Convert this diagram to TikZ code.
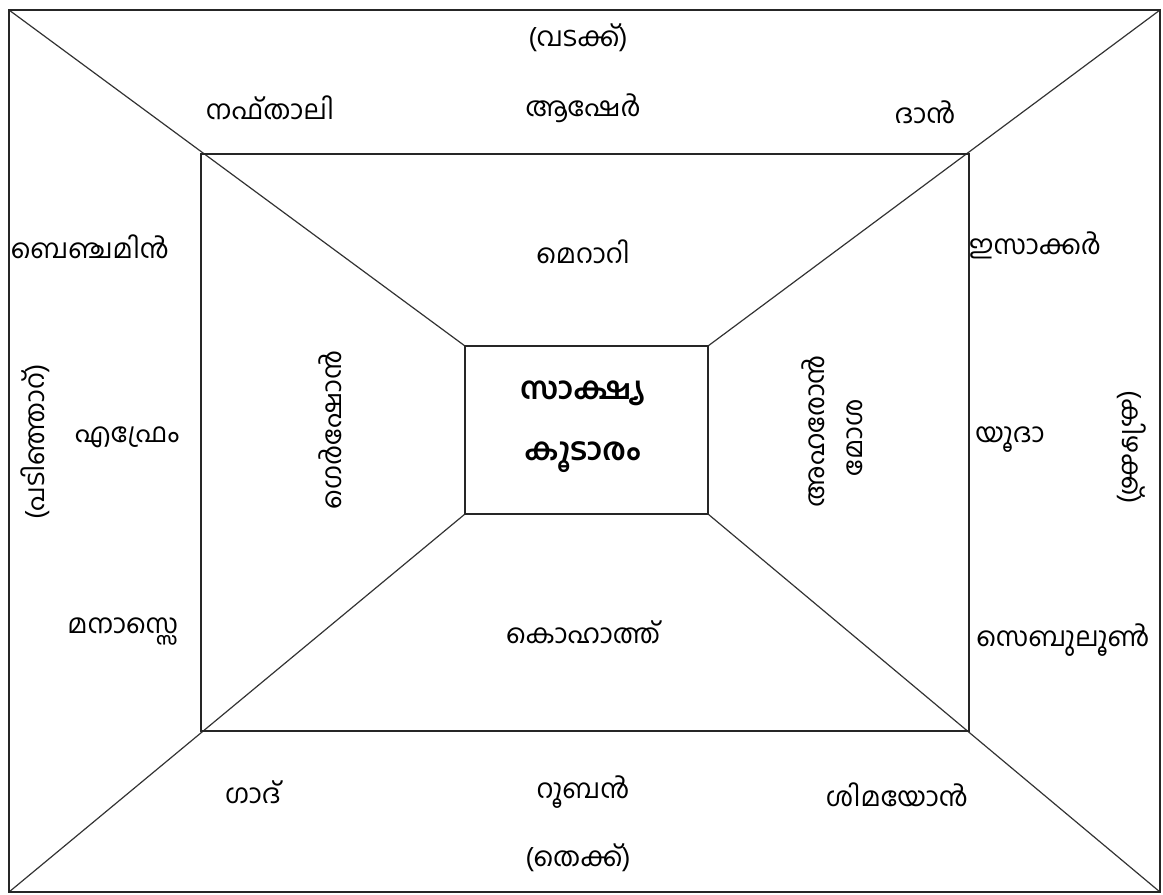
\documentclass[tikz,border=0pt]{standalone}
\usepackage{fontspec}
\newfontfamily\mlfont[Script=Malayalam]{Hind Kochi}

\begin{document}
\begin{tikzpicture}[x=0.7087pt, y=-0.7087pt]
            % Kader
            \useasboundingbox (0,0) rectangle (1163,894);

            % Stijlen
            \tikzset{rand/.style={line width=1.2pt, black!85},
                     diag/.style={line width=0.85pt, black!80},
                     stam/.style={font=\mlfont\fontsize{19}{22}\selectfont, inner sep=1pt},
                     kern/.style={font=\mlfont\bfseries\fontsize{22}{26}\selectfont, inner sep=1pt}}

            % Hoekpunten
            \coordinate (onw) at (9,10);
            \coordinate (one) at (1160,10);
            \coordinate (osw) at (9,892);
            \coordinate (ose) at (1160,892);
            \coordinate (mnw) at (201,154);
            \coordinate (mse) at (969,731);
            \coordinate (inw) at (465,346);
            \coordinate (ine) at (708,346);
            \coordinate (isw) at (465,514);
            \coordinate (ise) at (708,514);

            % Diagonalen
            \draw[diag] (onw) -- (inw);
            \draw[diag] (one) -- (ine);
            \draw[diag] (osw) -- (isw);
            \draw[diag] (ose) -- (ise);

            % Rechthoeken
            \draw[rand] (onw) rectangle (ose);
            \draw[rand] (mnw) rectangle (mse);
            \draw[rand, fill=white] (inw) rectangle (ise);

            % Windrichtingen
            \node[stam] (noord) at (578,38) {(വടക്ക്)};
            \node[stam] (zuid) at (578,858) {(തെക്ക്)};
            \node[stam, rotate=90] (west) at (35,442) {(പടിഞ്ഞാറ്)};
            \node[stam, rotate=-90] (oost) at (1132,447) {(കിഴക്ക്)};

            % Stammen
            \node[stam] (naftali) at (270,108) {നഫ്താലി};
            \node[stam] (aser) at (583,108) {ആഷേർ};
            \node[stam] (dan) at (925,112) {ദാൻ};
            \node[stam] (benjamin) at (90,247) {ബെഞ്ചമിൻ};
            \node[stam] (efraim) at (127,437) {എഫ്രേം};
            \node[stam] (manasse) at (123,632) {മനാസ്സെ};
            \node[stam] (issaskar) at (1035,245) {ഇസാക്കർ};
            \node[stam] (juda) at (1010,440) {യൂദാ};
            \node[stam] (zebulon) at (1063,640) {സെബുലൂൺ};
            \node[stam] (gad) at (253,792) {ഗാദ്};
            \node[stam] (ruben) at (583,792) {റൂബൻ};
            \node[stam] (simeon) at (897,795) {ശിമയോൻ};

            % Levieten
            \node[stam] (merari) at (583,252) {മെറാറി};
            \node[stam] (kehat) at (583,632) {കൊഹാത്ത്};
            \node[stam, rotate=90] (gerson) at (330,430) {ഗെർഷോൻ};
            \node[stam, rotate=90] (aaron) at (813,431) {അഹരോൻ};
            \node[stam, rotate=90] (mozes) at (855,438) {മോശ};

            % Tabernakel
            \node[kern] (tent1) at (583,393) {സാക്ഷ്യ};
            \node[kern] (tent2) at (583,457) {കൂടാരം};
        \end{tikzpicture}
\end{document}
